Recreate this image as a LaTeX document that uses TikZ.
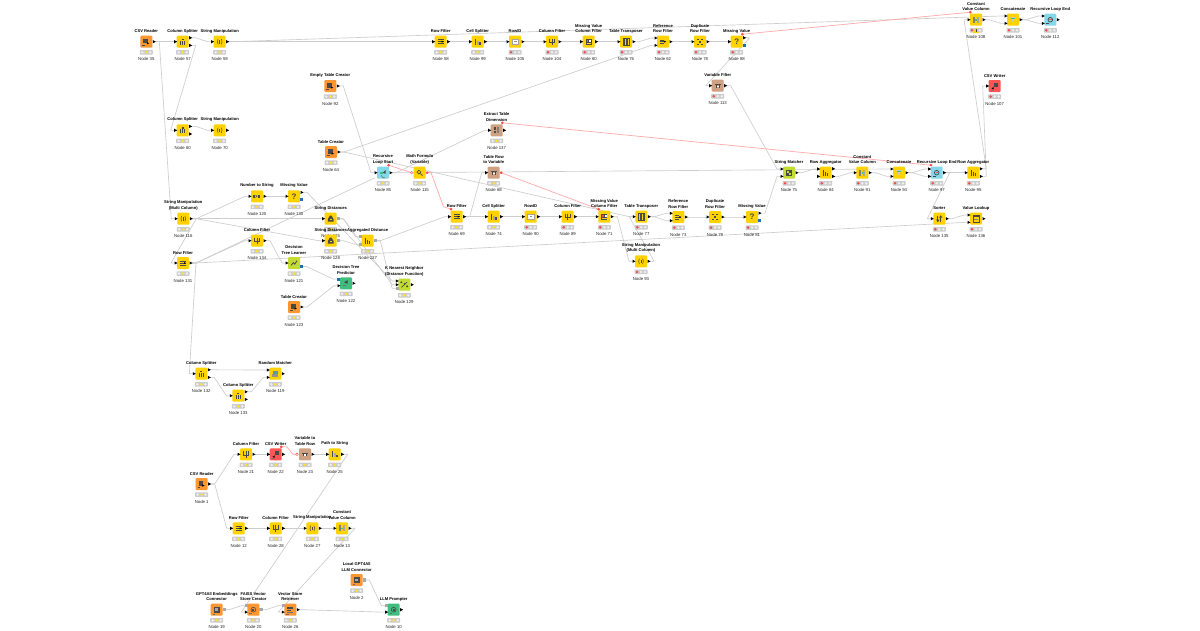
\documentclass[tikz,border=0pt]{standalone}
\usepackage{fontspec}
\setmainfont{Liberation Sans}
\usetikzlibrary{calc,backgrounds}
\definecolor{gd}{HTML}{4A4A4A}
\definecolor{cSrc}{HTML}{FF9632}
\definecolor{cMan}{HTML}{FFD200}
\definecolor{cVar}{HTML}{CDA182}
\definecolor{cLoop}{HTML}{85D8EA}
\definecolor{cOut}{HTML}{FF5555}
\definecolor{cLearn}{HTML}{C3DC32}
\definecolor{cPred}{HTML}{3FBF7F}
\definecolor{wirec}{HTML}{CDCDCD}
\definecolor{flowc}{HTML}{FFA9A9}
\definecolor{dotg}{HTML}{EFEFEF}
\definecolor{barg}{HTML}{CCCCCC}
\definecolor{ya}{HTML}{EFEFEF}\definecolor{yb}{HTML}{FFE22E}\definecolor{yc}{HTML}{EFEFEF}
\definecolor{ra}{HTML}{F04E4E}\definecolor{rb}{HTML}{EFEFEF}\definecolor{rc}{HTML}{EFEFEF}
\definecolor{pgray}{HTML}{A8A8A8}
\definecolor{pblue}{HTML}{1F6FB5}
\definecolor{pred}{HTML}{FF4D4D}
\tikzset{
 kicon/.style={rectangle,rounded corners=1pt,minimum width=12pt,minimum height=12pt,inner sep=0pt,draw=none},
 ktitle/.style={font=\fontsize{4.1}{5.5}\selectfont\bfseries,align=center,anchor=south,inner sep=0pt,text=black},
 klabel/.style={font=\fontsize{4.3}{5}\selectfont,anchor=center,inner sep=0pt,text=black!85},
 wire/.style={draw=wirec,line width=.65pt,line join=round},
 fwire/.style={draw=flowc,line width=.7pt,line join=round}
}
\newcommand{\porttri}[1]{\fill[black] ($(#1)+(-1.5,-1.6)$) -- ($(#1)+(1.5,0)$) -- ($(#1)+(-1.5,1.6)$) -- cycle;}
\newcommand{\portgs}[1]{\fill[pgray] ($(#1)+(-1.6,-1.6)$) rectangle ($(#1)+(1.6,1.6)$);}
\newcommand{\portbs}[1]{\fill[pblue] ($(#1)+(-1.6,-1.6)$) rectangle ($(#1)+(1.6,1.6)$);}
\newcommand{\portrd}[1]{\fill[pred] (#1) circle (1.5);}
\newcommand{\portho}[1]{\filldraw[fill=white,draw=pred,line width=.4pt] (#1) circle (1.3);}
\newcommand{\kn}[9]{%
 \node[kicon,fill=#4] (#1) at (#2,#3) {};
 \begin{scope}[shift={(#2,#3)}] #5 \end{scope}
 \node[ktitle] (#1-title) at (#2,#3-8.6) {#6};
 \fill[barg,rounded corners=.6pt] (#2-6.5,#3+8.4) rectangle (#2+6.5,#3+12.8);
 \fill[#8a] (#2-4,#3+10.6) circle (1.4);
 \fill[#8b] (#2,#3+10.6) circle (1.4);
 \fill[#8c] (#2+4,#3+10.6) circle (1.4);
 \node[klabel] (#1-label) at (#2,#3+17.6) {Node #7};
 \coordinate (#1-in) at (#2-7,#3);
 \coordinate (#1-out) at (#2+8,#3);
 \coordinate (#1-i1) at (#2-7,#3-3.7);
 \coordinate (#1-i2) at (#2-7,#3+3.7);
 \coordinate (#1-lo) at (#2-7,#3+2.4);
 \coordinate (#1-o1) at (#2+8,#3-3.9);
 \coordinate (#1-o2) at (#2+8,#3+3.7);
 \coordinate (#1-fi) at (#2-5.7,#3-7.5);
 \coordinate (#1-fo) at (#2+5.6,#3-7.5);
 \coordinate (#1-hi) at (#2-8,#3);
 \coordinate (#1-ro) at (#2+7.4,#3);
 \coordinate (#1-bo) at (#2+7.4,#3+3.5);
 \coordinate (#1-bi) at (#2-7.6,#3-4.2);
 \coordinate (#1-go) at (#2+7.6,#3);
 \coordinate (#1-gi1) at (#2-7.2,#3-4);
 \coordinate (#1-gi2) at (#2-7.2,#3+3.7);
 \edef\portlist{#9}
 \foreach \pp/\ss in \portlist {\csname port\ss\endcsname{#1-\pp}}
}
\newcommand{\wire}[2]{\draw[wire] (#1) -- ($(#1)+(5,0)$) -- ($(#2)+(-5,0)$) -- (#2);}
\newcommand{\fstraight}[2]{\draw[fwire] (#1) -- (#2);}
% glyphs
\def\gSrc{\fill[gd](-3,-3)rectangle(1.5,1.5);\fill[black](.5,2.6)--(3,1.6)--(.5,.6)--cycle;\fill[gd](-4,3.2)rectangle(-1.5,4);}
\def\gSpl{\fill[gd](-2.6,-1)rectangle(-1.3,3);\fill[gd](-.6,-1)rectangle(.6,3);\fill[gd](1.3,-1)rectangle(2.6,3);\fill[gd](-1,-3)rectangle(1,-1.6);}
\def\gStr{\draw[gd,line width=.5pt](-1.6,-2.6)to[bend right=30](-1.6,2.6);\draw[gd,line width=.5pt](1.6,-2.6)to[bend left=30](1.6,2.6);\fill[gd](-.5,-1.8)rectangle(.5,1.8);}
\def\gRow{\draw[gd,line width=.55pt](-3,-2)--(3,-2)(-3,0)--(3,0)(-3,2)--(3,2);\fill[black](1,-1)--(3,0)--(1,1)--cycle;}
\def\gCell{\fill[gd](-3,-3)rectangle(-1.4,3);\fill[pgray](-.8,-1)rectangle(1,3);\fill[gd](1.4,.4)rectangle(3,3);}
\def\gId{\filldraw[fill=white,draw=gd!50,line width=.3pt](-3.2,-2.2)rectangle(3.2,2.2);\fill[gd!60](-1,-.6)rectangle(1.6,.6);}
\def\gCol{\draw[gd,line width=.6pt](-2.4,-3)--(-2.4,1)--(2.4,1)--(2.4,-3)(0,-3)--(0,3.2);}
\def\gMv{\fill[gd](-3,-3)rectangle(3,3);\fill[pred](-2.2,-2.2)rectangle(-.4,.2);\fill[white](.4,-2.2)rectangle(2.2,.2);\fill[cMan](-2.2,.8)rectangle(2.2,2.2);}
\def\gGrd{\draw[gd,line width=.35pt,step=1.6](-3.2,-3.2)grid(3.2,3.2);\draw[gd,line width=.5pt](-3.2,-3.2)rectangle(3.2,3.2);}
\def\gRef{\draw[gd,line width=.55pt](-3,-1.8)--(1,-1.8)(-3,0)--(3,0)(-3,1.8)--(1,1.8);\fill[black](1,-1)--(3,0)--(1,1)--cycle;}
\def\gDup{\fill[gd](-3,-3)rectangle(-1,-1.8);\fill[gd](1,-3)rectangle(3,-1.8);\fill[gd](-.7,-1)rectangle(.7,1.2);\fill[gd](-3,2)rectangle(-1,3.2);\fill[gd](1,2)rectangle(3,3.2);}
\def\gQ{\node[inner sep=0pt,font=\fontsize{8}{8}\selectfont\bfseries,text=gd] (qmark) at (0,0) {?};}
\def\gVar{\fill[gd](-3,-1.6)rectangle(3,-.4);\fill[gd](-2,-.4)rectangle(-1,2);\fill[gd](1,-.4)rectangle(2,2);\fill[white](-.8,.1)rectangle(.8,1.3);}
\def\gCon{\fill[gd!70](-3,-3)rectangle(-1,3);\fill[pgray](.6,-3)rectangle(3,3);\fill[cPred](-.8,-.8)rectangle(.6,.8);}
\def\gCat{\fill[white!70!gd](-3,-2.6)--(3,-2.6)--(.8,0)--(.8,2)--(-.8,2)--(-.8,0)--cycle;\fill[cPred](-1.6,-1.6)rectangle(1.6,-.8);}
\def\gLoop{\draw[gd,line width=.7pt](0,0)circle(2.3);\fill[pred](-1.2,-.7)rectangle(1.2,.7);\fill[gd](-4.2,3.6)rectangle(-1,4.4);}
\def\gLs{\draw[gd!80,line width=.6pt](-1.6,2.6)arc(180:60:2.6);\fill[cPred](-3,-1)rectangle(0,1.2);\fill[gd](-.2,.2)--(2.6,-2.6)--(2.6,1)--cycle;}
\def\gAgg{\fill[gd](-2.8,-3)rectangle(-1.5,3);\fill[gd](-.8,-1.2)rectangle(.6,3);\fill[gd](1.3,.2)rectangle(2.7,3);}
\def\gDst{\fill[gd](-.9,-3)--(.9,-3)--(2.8,.4)--(2.8,2.8)--(-2.8,2.8)--(-2.8,.4)--cycle;\fill[cMan](-.8,.2)rectangle(.8,1.5);}
\def\gMat{\fill[gd](-3,-3)rectangle(3,3);\fill[cLearn](-1.8,-1.8)rectangle(0,0);\fill[cLearn](.4,.4)rectangle(2,2);}
\def\gLrn{\draw[gd,line width=.8pt](-3,2.4)--(-.6,-.4)--(.8,1.2)--(3,-2.4);}
\def\gWrt{\fill[gd](-1,-3.4)rectangle(3,.6);\fill[black](-1,1)--(-3.2,2.4)--(-1,3.6)--cycle;\fill[gd!80](-4,3.6)rectangle(-1.8,4.4);}
\def\gNum{\fill[gd](-4,-1.4)rectangle(-2.4,1.4);\draw[gd,line width=.5pt](-1.6,-1.2)--(.2,0)--(-1.6,1.2);\fill[gd](1,-1.4)rectangle(3.4,1.4);}
\def\gSrt{\draw[gd,line width=.9pt](-1.4,-3.2)--(-1.4,3.2)(1.4,-3.2)--(1.4,3.2);\fill[gd](-3.2,1)--(-1.4,3.4)--(.4,1)--cycle;\fill[gd](-.4,-1)--(1.4,-3.4)--(3.2,-1)--cycle;}
\def\gLkp{\draw[gd,line width=.5pt](-3.2,-3.2)rectangle(3.2,3.2);\fill[gd](-3.2,-3.2)rectangle(3.2,-1.6);\fill[gd!70](-1.6,0)rectangle(1.6,1);}
\def\gNear{\draw[gd,line width=.7pt](-2.8,2.6)--(2.8,-2.6);\fill[gd](-3,-2.4)circle(1.1);\fill[gd](2.8,1.6)circle(1.1);\fill[gd](.2,-1)circle(.9);}
\def\gPred{\fill[gd](-2,-1)--(1.6,-3.2)--(1.6,.6)--cycle;\fill[gd!80](-2.8,1.6)rectangle(.4,3);}
\def\gRnd{\fill[cLoop!70!black](-2.6,-3)rectangle(2.6,-.2);\fill[gd!60](-3,.2)rectangle(3,3);}
\def\gEx{\fill[gd](-3,-3)rectangle(-.6,0);\fill[gd!70](.2,-3)rectangle(2.4,3);\fill[gd](-3,.8)rectangle(-.6,3);}
\def\gFaiss{\draw[gd,line width=.6pt](0,0)circle(2.4);\fill[gd](-.9,-.9)rectangle(.9,.9);\fill[gd!80](-4.2,3.6)rectangle(-1.6,4.4);}
\def\gVs{\fill[gd](-3,-2.6)rectangle(3,-.8);\fill[gd](-3,-.2)rectangle(1,1.2);\fill[gd!80](-3,1.8)rectangle(3,2.9);\fill[gd!80](-4.2,3.8)rectangle(-1.6,4.4);}
\def\gLlm{\fill[gd](-3,-3)rectangle(3,3);\fill[pgray](-1.4,-1.4)rectangle(1.4,1.4);\fill[gd!80](-4.2,3.8)rectangle(-1.6,4.4);}
\def\gFm{\draw[gd,line width=.6pt](-.8,-.6)circle(1.9);\draw[gd,line width=.8pt](.6,.8)--(2.8,2.8);}
\def\IO{in/tri,out/tri}
\begin{document}
\begin{tikzpicture}[x=1pt,y=-1pt]
\useasboundingbox (0,0) rectangle (1200,630);
% top row
\kn{n35}{146.3}{41.7}{cSrc}{\gSrc}{CSV Reader}{35}{y}{out/tri}
\kn{n57}{182.7}{41.7}{cMan}{\gSpl}{Column Splitter}{57}{y}{in/tri,o1/tri,o2/tri}
\kn{n59}{219.7}{41.7}{cMan}{\gStr}{String Manipulation}{59}{y}{\IO}
\kn{cs60}{182.7}{130.3}{cMan}{\gSpl}{Column Splitter}{60}{y}{in/tri,o1/tri,o2/tri}
\kn{n70}{219.7}{130.3}{cMan}{\gStr}{String Manipulation}{70}{y}{\IO}
\kn{n92}{330.3}{86}{cSrc}{\gSrc}{Empty Table Creator}{92}{y}{out/tri}
\kn{n64}{331}{152}{cSrc}{\gSrc}{Table Creator}{64}{y}{out/tri}
\kn{n58}{440.7}{41.7}{cMan}{\gRow}{Row Filter}{58}{y}{\IO}
\kn{n99}{477.7}{41.7}{cMan}{\gCell}{Cell Splitter}{99}{y}{\IO}
\kn{n105}{515}{41.7}{cMan}{\gId}{RowID}{105}{r}{\IO}
\kn{n104}{552}{41.7}{cMan}{\gCol}{Column Filter}{104}{r}{\IO}
\kn{mv60}{588.7}{41.7}{cMan}{\gMv}{Missing Value\\Column Filter}{60}{r}{\IO}
\kn{n76}{626}{41.7}{cMan}{\gGrd}{Table Transposer}{76}{r}{\IO}
\kn{n62}{663}{41.7}{cMan}{\gRef}{Reference\\Row Filter}{62}{r}{i1/tri,i2/tri,out/tri}
\kn{n78}{700}{41.7}{cMan}{\gDup}{Duplicate\\Row Filter}{78}{r}{\IO}
\kn{n88}{736.7}{41.7}{cMan}{\gQ}{Missing Value}{88}{r}{in/tri,o1/tri,bo/bs,fo/rd}
\kn{n113}{717.7}{85.7}{cVar}{\gVar}{Variable Filter}{113}{r}{\IO}
\kn{n108}{976}{19.7}{cMan}{\gCon}{Constant\\Value Column}{108}{r}{\IO,fi/rd}
\kn{n101}{1013}{19.7}{cMan}{\gCat}{Concatenate}{101}{r}{i1/tri,i2/tri,out/tri}
\kn{n112}{1050.3}{19.7}{cLoop}{\gLoop}{Recursive Loop End}{112}{r}{i1/tri,i2/tri,out/tri}
\kn{n107}{994.7}{86}{cOut}{\gWrt}{CSV Writer}{107}{r}{in/tri}
% left middle
\kn{n116}{183.3}{218.7}{cMan}{\gStr}{String Manipulation\\(Multi Column)}{116}{y}{\IO}
\kn{n131}{183}{263}{cMan}{\gRow}{Row Filter}{131}{y}{\IO}
\kn{n120}{257}{196.3}{cMan}{\gNum}{Number to String}{120}{y}{\IO}
\kn{n130}{294}{196.3}{cMan}{\gQ}{Missing Value}{130}{y}{in/tri,o1/tri,bo/bs}
\kn{n134}{257}{240.7}{cMan}{\gCol}{Column Filter}{134}{y}{\IO}
\kn{n121}{294}{263}{cLearn}{\gLrn}{Decision\\Tree Learner}{121}{y}{in/tri,bo/bs}
\kn{n122}{346}{283.3}{cPred}{\gPred}{Decision Tree\\Predictor}{122}{y}{bi/bs,lo/tri,out/tri}
\kn{n123}{294}{307}{cSrc}{\gSrc}{Table Creator}{123}{y}{out/tri}
\kn{n125}{330.7}{218.7}{cMan}{\gDst}{String Distances}{125}{y}{in/tri,go/gs}
\kn{n128}{330.7}{240.7}{cMan}{\gDst}{String Distances}{128}{y}{in/tri,go/gs}
\kn{n127}{367.7}{240.7}{cMan}{\gAgg}{Aggregated Distance}{127}{y}{gi1/gs,gi2/gs,go/gs}
\kn{n129}{404.3}{284.7}{cLearn}{\gNear}{K Nearest Neighbor\\(Distance Function)}{129}{y}{i1/tri,in/tri,gi2/gs,out/tri}
% loop row
\kn{n85}{383}{172.7}{cLoop}{\gLs}{Recursive\\Loop Start}{85}{y}{\IO,fo/rd}
\kn{n115}{419.7}{172.7}{cMan}{\gFm}{Math Formula\\(Variable)}{115}{y}{hi/ho,ro/rd}
\kn{n137}{496.7}{130.3}{cVar}{\gEx}{Extract Table\\Dimension}{137}{y}{\IO,fo/rd}
\kn{n68}{493.7}{172.7}{cVar}{\gVar}{Table Row\\to Variable}{68}{y}{in/tri,ro/rd}
\kn{n69}{456.7}{216.7}{cMan}{\gRow}{Row Filter}{69}{y}{\IO,fi/rd}
\kn{n74}{493.7}{216.7}{cMan}{\gCell}{Cell Splitter}{74}{y}{\IO}
\kn{n90}{530.7}{216.7}{cMan}{\gId}{RowID}{90}{r}{\IO}
\kn{n89}{567.7}{216.7}{cMan}{\gCol}{Column Filter}{89}{r}{\IO}
\kn{n71}{604.3}{216.7}{cMan}{\gMv}{Missing Value\\Column Filter}{71}{r}{\IO,fi/rd}
\kn{n77}{641.3}{216.7}{cMan}{\gGrd}{Table Transposer}{77}{r}{\IO}
\kn{n93}{641}{261.3}{cMan}{\gStr}{String Manipulation\\(Multi Column)}{93}{r}{\IO}
\kn{n73}{678.3}{217}{cMan}{\gRef}{Reference\\Row Filter}{73}{r}{i1/tri,i2/tri,out/tri}
\kn{n79}{715}{217}{cMan}{\gDup}{Duplicate\\Row Filter}{79}{r}{\IO}
\kn{n81}{752}{217}{cMan}{\gQ}{Missing Value}{81}{r}{in/tri,o1/tri,bo/bs}
\kn{n75}{789}{172.7}{cLearn}{\gMat}{String Matcher}{75}{r}{i1/tri,i2/tri,out/tri}
\kn{n84}{825.7}{172.7}{cMan}{\gAgg}{Row Aggregator}{84}{r}{i1/tri,i2/tri,o1/tri,o2/tri}
\kn{n91}{862.3}{172.7}{cMan}{\gCon}{Constant\\Value Column}{91}{r}{\IO}
\kn{n94}{899}{172.7}{cMan}{\gCat}{Concatenate}{94}{r}{i1/tri,i2/tri,out/tri}
\kn{n97}{936.7}{172.7}{cLoop}{\gLoop}{Recursive Loop End}{97}{r}{i1/tri,i2/tri,out/tri,fi/rd}
\kn{n95}{973.3}{172.7}{cMan}{\gAgg}{Row Aggregator}{95}{r}{in/tri,o1/tri,o2/tri}
\kn{n135}{939.3}{218.7}{cMan}{\gSrt}{Sorter}{135}{r}{\IO}
\kn{n136}{976}{218.7}{cMan}{\gLkp}{Value Lookup}{136}{r}{i1/tri,i2/tri,out/tri}
% random matcher group
\kn{n132}{201.3}{373.7}{cMan}{\gSpl}{Column Splitter}{132}{y}{in/tri,o1/tri,o2/tri}
\kn{n133}{238.3}{395.7}{cMan}{\gSpl}{Column Splitter}{133}{y}{in/tri,o1/tri,o2/tri}
\kn{n119}{275.3}{373.7}{cMan}{\gRnd}{Random Matcher}{119}{y}{i1/tri,i2/tri,out/tri}
% lower flow
\kn{n1}{201.7}{484}{cSrc}{\gSrc}{CSV Reader}{1}{y}{out/tri}
\kn{n21}{246}{454.3}{cMan}{\gCol}{Column Filter}{21}{y}{\IO}
\kn{n22}{275.7}{454.3}{cOut}{\gWrt}{CSV Writer}{22}{y}{\IO,fo/rd}
\kn{n23}{305}{454.3}{cVar}{\gVar}{Variable to\\Table Row}{23}{y}{hi/ho,out/tri}
\kn{n25}{334.7}{454.3}{cMan}{\gCell}{Path to String}{25}{y}{\IO}
\kn{n12}{238.7}{528.3}{cMan}{\gRow}{Row Filter}{12}{y}{\IO}
\kn{n28}{275.7}{528.3}{cMan}{\gCol}{Column Filter}{28}{y}{\IO}
\kn{n27}{312.3}{528.3}{cMan}{\gStr}{String Manipulation}{27}{y}{\IO}
\kn{n13}{342}{528.3}{cMan}{\gCon}{Constant\\Value Column}{13}{y}{\IO}
\kn{n19}{216.7}{609.7}{cSrc}{\gLlm}{GPT4All Embeddings\\Connector}{19}{y}{go/gs}
\kn{n20}{253.3}{609.7}{cSrc}{\gFaiss}{FAISS Vector\\Store Creator}{20}{y}{gi1/gs,lo/tri,go/gs}
\kn{n26}{290.3}{609.7}{cSrc}{\gVs}{Vector Store\\Retriever}{26}{y}{gi1/gs,lo/tri,out/tri}
\kn{n2}{356.7}{580}{cSrc}{\gLlm}{Local GPT4All\\LLM Connector}{2}{y}{go/gs}
\kn{n10}{393.7}{609.7}{cPred}{\gFaiss}{LLM Prompter}{10}{y}{gi1/gs,lo/tri,out/tri}
% warning flag under node 108
\fill[cMan] (976,27.5) -- (979,33) -- (973,33) -- cycle;
\fill[gd] (975.6,29) rectangle (976.4,31.6);
\begin{pgfonlayer}{background}
\fill[white] (0,0) rectangle (1200,630);
\wire{n35-out}{n57-in}
\wire{n35-out}{n116-in}
\wire{n57-o1}{n59-in}
\wire{n57-o2}{cs60-in}
\wire{cs60-o1}{n70-in}
\wire{n59-out}{n58-in}
\wire{n59-out}{n101-i1}
\wire{n58-out}{n99-in}
\wire{n99-out}{n105-in}
\wire{n105-out}{n104-in}
\wire{n104-out}{mv60-in}
\wire{mv60-out}{n76-in}
\wire{n76-out}{n62-i1}
\wire{n64-out}{n62-i2}
\wire{n64-out}{n77-in}
\wire{n62-out}{n78-in}
\wire{n78-out}{n88-in}
\wire{n88-o1}{n113-in}
\wire{n113-out}{n75-i1}
\wire{n81-o1}{n75-i2}
\wire{n92-out}{n85-in}
\draw[wire] (n131-out) -- ($(n131-out)+(5,0)$) -- ($(n85-in)+(-1,5)$);
\wire{n85-out}{n137-in}
\wire{n85-out}{n94-i1}
\wire{n127-go}{n69-in}
\wire{n69-out}{n68-in}
\wire{n69-out}{n74-in}
\wire{n74-out}{n90-in}
\wire{n90-out}{n89-in}
\wire{n89-out}{n71-in}
\wire{n71-out}{n93-in}
\wire{n93-out}{n77-in}
\wire{n77-out}{n73-i1}
\wire{n77-out}{n73-i2}
\wire{n73-out}{n79-in}
\wire{n79-out}{n81-in}
\wire{n75-out}{n84-i1}
\wire{n84-o2}{n91-in}
\wire{n91-out}{n94-i2}
\wire{n94-out}{n97-i1}
\wire{n94-out}{n97-i2}
\wire{n97-out}{n95-in}
\wire{n97-out}{n135-in}
\wire{n135-out}{n136-i1}
\wire{n131-out}{n136-i2}
\wire{n95-o1}{n108-in}
\wire{n95-o2}{n107-in}
\wire{n108-out}{n101-i2}
\wire{n101-out}{n112-i1}
\wire{n101-out}{n112-i2}
\wire{n116-out}{n120-in}
\wire{n116-out}{n125-in}
\wire{n116-out}{n128-in}
\wire{n116-out}{n131-in}
\wire{n120-out}{n130-in}
\wire{n130-o1}{n129-i1}
\wire{n131-out}{n134-in}
\wire{n131-out}{n132-in}
\wire{n134-out}{n121-in}
\wire{n121-bo}{n122-bi}
\wire{n123-out}{n122-lo}
\wire{n125-go}{n127-gi1}
\wire{n128-go}{n127-gi2}
\wire{n125-go}{n129-in}
\wire{n127-go}{n129-gi2}
\wire{n132-o1}{n119-i1}
\wire{n132-o2}{n133-in}
\wire{n133-o1}{n119-i2}
\wire{n1-out}{n21-in}
\wire{n1-out}{n12-in}
\wire{n21-out}{n22-in}
\wire{n23-out}{n25-in}
\wire{n12-out}{n28-in}
\wire{n28-out}{n27-in}
\wire{n27-out}{n13-in}
\wire{n25-out}{n20-lo}
\wire{n13-out}{n26-lo}
\wire{n19-go}{n20-gi1}
\wire{n20-go}{n26-gi1}
\wire{n26-out}{n10-lo}
\wire{n2-go}{n10-gi1}
% flow variable connections
\fstraight{n88-fo}{n108-fi}
\fstraight{n137-fo}{n97-fi}
\fstraight{n68-ro}{n71-fi}
\fstraight{n85-fo}{n115-hi}
\draw[fwire] (n115-ro) -- ($(n115-ro)+(4,0)$) -- ($(n69-fi)+(-7.5,-2.5)$) -- (n69-fi);
\draw[fwire] (n22-fo) -- ($(n22-fo)+(5.5,0)$) -- ($(n23-hi)+(-4,0)$) -- (n23-hi);
\end{pgfonlayer}
\end{tikzpicture}
\end{document}
